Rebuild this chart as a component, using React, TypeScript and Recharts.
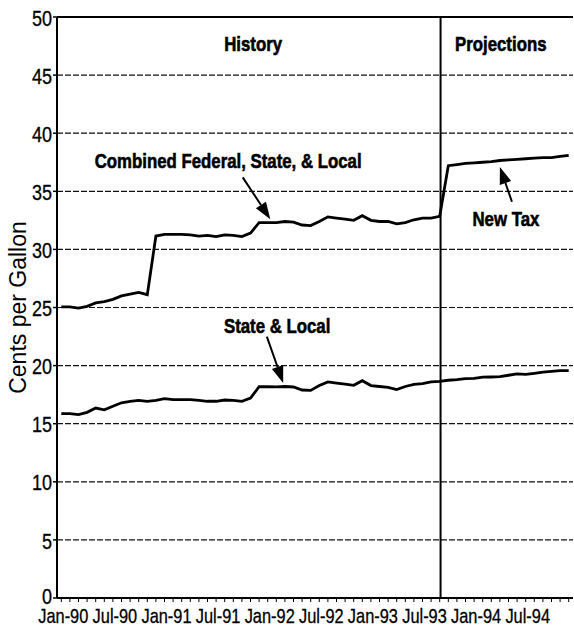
import {
  CartesianGrid,
  Label,
  Line,
  LineChart,
  ReferenceDot,
  ReferenceLine,
  XAxis,
  YAxis,
} from 'recharts'

const monthNames = ['Jan', 'Feb', 'Mar', 'Apr', 'May', 'Jun', 'Jul', 'Aug', 'Sep', 'Oct', 'Nov', 'Dec']
const years = ['90', '91', '92', '93', '94']
const months = years.flatMap((y) => monthNames.map((m) => `${m}-${y}`))

// cents per gallon, monthly Jan-90 .. Dec-94
const combined = [
  25.05, 25.05, 24.95, 25.1, 25.4, 25.5, 25.7, 26.0, 26.15, 26.3, 26.1,
  31.15, 31.3, 31.3, 31.3, 31.25, 31.15, 31.2, 31.1, 31.25, 31.2, 31.1, 31.4,
  32.3, 32.3, 32.3, 32.4, 32.35, 32.1, 32.05, 32.4, 32.8, 32.7, 32.6, 32.5, 32.9, 32.5, 32.4, 32.4, 32.2, 32.3, 32.55, 32.7, 32.7, 32.85,
  37.2, 37.3, 37.4, 37.45, 37.5, 37.55, 37.65, 37.7, 37.75, 37.8, 37.85, 37.9, 37.9, 38.0, 38.1,
]
const stateLocal = [
  15.86, 15.86, 15.78, 15.98, 16.35, 16.2, 16.5, 16.8, 16.93, 17.0, 16.93,
  17.0, 17.15, 17.07, 17.07, 17.07, 17.0, 16.93, 16.93, 17.04, 17.0, 16.93, 17.2,
  18.18, 18.18, 18.17, 18.2, 18.16, 17.9, 17.87, 18.28, 18.6, 18.5, 18.4, 18.3, 18.7, 18.28, 18.2, 18.13, 17.93, 18.2, 18.39, 18.45, 18.6, 18.65,
  18.74, 18.8, 18.88, 18.9, 19.0, 19.02, 19.05, 19.17, 19.28, 19.25, 19.34, 19.43, 19.51, 19.57, 19.57,
]
const yTicks = [0, 5, 10, 15, 20, 25, 30, 35, 40, 45, 50]

const data = months.map((m, i) => ({ x: i + 0.5, month: m, combined: combined[i], stateLocal: stateLocal[i] }))
const xTicks = data.map((d) => d.x)

const sans = "'Liberation Sans', Arial, Helvetica, sans-serif"

// condensed look: squeeze Liberation Sans horizontally
function NText({ x, y, anchor = 'middle', size, bold, children }: any) {
  return (
    <text
      transform={`translate(${x},${y}) scale(0.82,1)`}
      textAnchor={anchor}
      dominantBaseline="central"
      stroke="#000"
      strokeWidth={bold ? 0.6 : 0.3}
      style={{ fontFamily: sans, fontSize: size, fontWeight: bold ? 700 : 400, fill: '#000' }}
    >
      {children}
    </text>
  )
}

function Arrow(props: any) {
  const { x1, y1, x2, y2 } = props
  const ang = Math.atan2(y2 - y1, x2 - x1)
  const len = 17
  const w = 6
  const bx = x2 - len * Math.cos(ang)
  const by = y2 - len * Math.sin(ang)
  const px = -Math.sin(ang) * w
  const py = Math.cos(ang) * w
  return (
    <g>
      <line x1={x1} y1={y1} x2={bx} y2={by} stroke="#000" strokeWidth={2} />
      <polygon points={`${x2},${y2} ${bx + px},${by + py} ${bx - px},${by - py}`} fill="#000" />
    </g>
  )
}

function note(text: string) {
  return (p: any) => (
    <NText x={p.cx} y={p.cy} size={20.5} bold>
      {text}
    </NText>
  )
}

function MonthTick(props: any) {
  const { x, y, payload } = props
  const label = months[Math.floor(payload.value)]
  if (!label || !(label.startsWith('Jan') || label.startsWith('Jul'))) return null
  return (
    <NText x={x + 2} y={y + 12} size={20}>
      {label}
    </NText>
  )
}

function ValueTick(props: any) {
  const { x, y, payload } = props
  return (
    <NText x={x} y={payload.value === 0 ? y - 2 : y + 1} anchor="end" size={22}>
      {payload.value}
    </NText>
  )
}

export default function App() {
  return (
    <div style={{ position: 'absolute', left: 0, top: 0, width: 574, height: 630, background: '#fff' }}>
      <LineChart width={574} height={630} data={data} margin={{ top: 17, right: 1, bottom: 0, left: 0 }}>
        <CartesianGrid horizontal vertical={false} stroke="#111" strokeDasharray="6 2" strokeWidth={1.2} />
        <XAxis
          dataKey="x"
          type="number"
          domain={[0, 60]}
          ticks={xTicks}
          interval={0}
          height={32}
          tick={<MonthTick />}
          tickSize={4}
          axisLine={{ stroke: '#000', strokeWidth: 2 }}
          tickLine={{ stroke: '#000', strokeWidth: 1 }}
        />
        <YAxis
          type="number"
          domain={[0, 50]}
          ticks={yTicks}
          interval={0}
          width={57}
          tickSize={4}
          tickMargin={1}
          axisLine={{ stroke: '#000', strokeWidth: 2 }}
          tickLine={{ stroke: '#000', strokeWidth: 1.5 }}
          tick={<ValueTick />}
        >
          <Label
            content={(p: any) => {
              const vb = p.viewBox
              const cx = vb.x + 18
              const cy = vb.y + vb.height / 2
              return (
                <text
                  transform={`translate(${cx},${cy}) rotate(-90)`}
                  textAnchor="middle"
                  dominantBaseline="central"
                  style={{ fontFamily: sans, fontSize: 23, fill: '#000' }}
                >
                  Cents per Gallon
                </text>
              )
            }}
          />
        </YAxis>
        <ReferenceLine y={50} stroke="#000" strokeWidth={2} />
        <ReferenceLine x={44.6} stroke="#000" strokeWidth={2} />
        <Line type="linear" dataKey="combined" stroke="#000" strokeWidth={2.8} dot={false} isAnimationActive={false} />
        <Line type="linear" dataKey="stateLocal" stroke="#000" strokeWidth={2.8} dot={false} isAnimationActive={false} />
        <ReferenceDot x={22.8} y={47.7} r={0} shape={note('History')} />
        <ReferenceDot x={51.6} y={47.7} r={0} shape={note('Projections')} />
        <ReferenceDot x={19.9} y={37.6} r={0} shape={note('Combined Federal, State, & Local')} />
        <ReferenceDot x={25.6} y={23.4} r={0} shape={note('State & Local')} />
        <ReferenceDot x={52.2} y={32.6} r={0} shape={note('New Tax')} />
        <ReferenceLine segment={[{ x: 21.6, y: 36.2 }, { x: 24.8, y: 32.6 }]} shape={Arrow} />
        <ReferenceLine segment={[{ x: 24.4, y: 22.5 }, { x: 26.3, y: 18.5 }]} shape={Arrow} />
        <ReferenceLine segment={[{ x: 52.9, y: 34.1 }, { x: 51.5, y: 37.1 }]} shape={Arrow} />
      </LineChart>
    </div>
  )
}
